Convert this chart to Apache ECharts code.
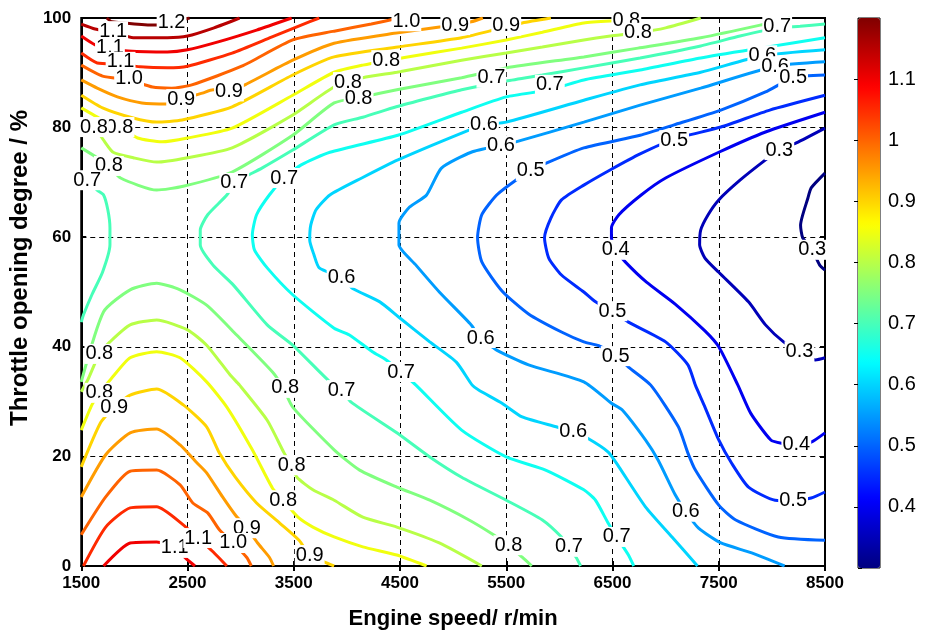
<!DOCTYPE html>
<html>
<head>
<meta charset="utf-8">
<script src="https://cdn.jsdelivr.net/npm/echarts/dist/echarts.min.js"></script>
<style>
  html, body { margin: 0; background: #fff; }
  #chart { width: 939px; height: 635px; }
</style>
</head>
<body>
<div id="chart"></div>
<script>
// contour lines, one array per level, each a list of polylines of [engine speed r/min, throttle %]
const lv120 = [[[1740,100],[1790,99.3],[2210,98.7],[2350,99.1],[2480,99.8],[2520,100]]];
const lv115 = [[[1500,98.9],[1630,98.0],[1800,97.4],[1990,96.4],[2310,96.4],[2500,96.7],[2750,98.2],[2990,100]]];
const lv110 = [
  [[1500,96.7],[1630,95.1],[1770,94.5],[1940,94.0],[2310,93.8],[2500,94.2],[2780,95.6],[3150,97.8],[3480,100]],
  [[1710,0],[1960,4.2],[2210,4.4],[2380,3.3],[2500,1.1],[2570,0]]
];
const lv105 = [
  [[1500,93.6],[1650,91.8],[1870,91.6],[2050,91.1],[2310,90.9],[2500,91.2],[2920,93.6],[3290,96.5],[3570,98.7],[3740,100]],
  [[1520,0],[1730,7.1],[1960,10.6],[2210,10.8],[2460,7.5],[2600,5.1],[2740,2.6],[2870,0]]
];
const lv100 = [
  [[1500,91.4],[1700,89.4],[1950,88.7],[2170,87.4],[2350,87.2],[2540,87.8],[3010,91.2],[3490,96.0],[3880,97.6],[4230,98.9],[4490,100]],
  [[1500,5.7],[1730,12.6],[1960,17.3],[2210,17.5],[2430,14.8],[2550,11.5],[2690,9.7],[2800,6.6],[2930,4.2],[3060,1.5],[3100,0]]
];
const lv095 = [
  [[1500,88.7],[1650,87.2],[1840,85.6],[2070,84.5],[2310,84.3],[2440,85.2],[2640,86.3],[2740,86.9],[2890,86.7],[3060,88.0],[3490,92.3],[3880,95.4],[4480,97.3],[4890,98.4],[5170,99.3],[5280,100]],
  [[1500,12.6],[1730,20.3],[1960,24.3],[2210,25.0],[2430,22.1],[2590,18.8],[2680,17.0],[2830,12.6],[2950,9.3],[3060,6.9],[3160,4.2],[3270,1.6],[3310,0]]
];
const lv090 = [
  [[1500,85.9],[1700,83.6],[1980,81.8],[2210,81.0],[2450,81.4],[2920,83.8],[3490,89.6],[3880,92.9],[4480,94.7],[5080,96.4],[5340,97.6],[5650,99.1],[5920,100]],
  [[1500,18.1],[1680,26.1],[1810,29.0],[1960,31.2],[2210,32.3],[2460,29.4],[2680,25.4],[2800,20.6],[2950,16.2],[3150,11.5],[3370,7.8],[3550,4.7],[3650,2.0],[3790,0.7],[3880,0]]
];
const lv085 = [
  [[1500,83.6],[1700,81.4],[1860,80.1],[2030,78.1],[2260,77.4],[2500,78.1],[2920,79.9],[3490,85.9],[3880,90.1],[4150,91.4],[4570,92.9],[5080,94.5],[5500,96.0],[5840,97.4],[6230,99.1],[6630,99.6],[6760,100]],
  [[1500,24.8],[1600,29.4],[1670,31.6],[1770,33.9],[1960,38.0],[2210,39.1],[2430,38.0],[2680,33.6],[2870,29.0],[3110,21.2],[3300,14.2],[3400,12.0],[3540,8.9],[3680,7.1],[3880,5.3],[4150,3.5],[4470,2.0],[4750,0]]
];
const lv080 = [
  [[1500,81.0],[1620,80.1],[1710,77.7],[1800,75.5],[1990,74.5],[2210,73.7],[2500,74.5],[2920,76.3],[3490,82.3],[3880,87.4],[4150,89.1],[4470,90.1],[5080,92.3],[5500,93.6],[5840,94.7],[6230,96.0],[6480,96.7],[6740,97.3],[7000,98.2],[7330,100]],
  [[1500,31.8],[1560,33.9],[1670,38.7],[1770,40.9],[1960,44.0],[2210,44.9],[2500,43.1],[2680,40.3],[2900,34.9],[2990,33.0],[3250,26.6],[3410,20.6],[3480,18.4],[3530,16.2],[3680,13.9],[3880,12.0],[4150,8.9],[4470,7.1],[4870,4.2],[5270,0]]
];
const lv075 = [
  [[1500,76.3],[1650,74.5],[1760,73.0],[1870,70.8],[2210,68.6],[2460,69.3],[2920,71.9],[3490,78.6],[3880,84.5],[4150,85.6],[4470,86.9],[5080,89.1],[5500,90.9],[6230,92.9],[6740,94.5],[7330,96.4],[7890,98.7],[8170,100]],
  [[1500,33.6],[1710,46.4],[1960,50.4],[2210,51.6],[2430,50.4],[2680,47.6],[2960,42.2],[3300,35.4],[3400,32.5],[3490,29.0],[3880,21.2],[4120,17.5],[4470,14.4],[4780,12.0],[5150,8.4],[5380,5.7],[5520,3.8],[5650,1.6],[5740,0]]
];
const lv070 = [
  [[1500,71.4],[1560,70.4],[1650,68.6],[1710,67.7],[1750,65.0],[1770,61.7],[1770,58.6],[1700,53.6],[1600,49.5],[1520,45.8],[1500,44.5]],
  [[8500,98.9],[8265,98.5],[8050,98.2],[7700,96.7],[7330,94.9],[6760,92.7],[6230,90.9],[5840,89.6],[5500,88.5],[5080,86.9],[4775,85.4],[4465,83.8],[4150,81.9],[3880,80.5],[3490,75.9],[3200,72.6],[3060,71.2],[2940,69.9],[2870,67.7],[2690,64.1],[2620,61.3],[2620,58.6],[2740,54.9],[2930,51.3],[3250,44.0],[3490,40.3],[3840,33.6],[3950,32.1],[4040,29.9],[4470,24.3],[4780,19.9],[5080,16.2],[5500,12.0],[5840,8.4],[6020,5.3],[6090,3.5],[6160,1.5],[6200,0]]
];
const lv065 = [[[8500,96.4],[7890,94.5],[7330,92.7],[6760,90.5],[6230,88.7],[5910,86.9],[5500,85.6],[5080,82.8],[4480,78.6],[3840,75.5],[3570,73.2],[3410,70.8],[3270,67.7],[3150,64.1],[3110,60.4],[3130,57.7],[3250,54.4],[3490,49.5],[3880,43.4],[4020,42.2],[4240,39.1],[4370,37.6],[4510,35.4],[4650,33.0],[5080,24.8],[5500,19.9],[5870,17.5],[6230,13.9],[6340,12.0],[6460,7.8],[6540,5.3],[6650,2.0],[6700,0]]];
const lv060 = [[[8500,94.2],[7910,93.1],[7330,90.1],[6760,87.8],[6230,85.0],[5500,81.0],[5290,80.5],[5080,79.0],[4480,74.1],[4140,70.8],[3840,67.7],[3710,65.0],[3660,62.2],[3650,59.5],[3690,56.8],[3740,54.4],[3950,52.6],[4050,50.7],[4310,48.2],[4490,45.4],[4780,40.9],[5030,37.2],[5180,33.0],[5240,32.1],[5460,29.7],[5650,27.2],[5970,25.4],[6130,24.5],[6250,23.5],[6460,20.8],[6560,18.1],[6810,10.8],[7060,5.3],[7300,0]]];
const lv055 = [[[8500,92.0],[8030,91.2],[7330,87.2],[6760,84.1],[6230,81.0],[5590,77.4],[5450,76.8],[5170,75.5],[4890,72.6],[4750,67.7],[4590,65.5],[4490,62.6],[4490,58.6],[4650,54.9],[4870,50.0],[5170,44.0],[5260,41.6],[5410,39.4],[5710,36.7],[6230,33.6],[6490,29.7],[6590,28.5],[6810,23.0],[6930,19.3],[7090,13.0],[7190,9.9],[7310,6.9],[7520,4.2],[7810,2.4],[8120,0]]];
const lv050 = [[[8500,89.6],[8200,89.1],[7940,86.5],[7520,83.2],[7080,80.5],[6760,78.6],[6230,76.3],[5840,73.2],[5730,72.1],[5590,70.4],[5410,67.7],[5270,64.1],[5230,59.9],[5270,55.5],[5460,50.2],[5710,46.0],[6020,42.7],[6230,40.9],[6370,40.2],[6530,38.5],[6650,36.3],[6860,33.0],[7120,25.4],[7210,20.6],[7280,17.5],[7500,11.1],[7660,8.4],[8060,5.3],[8500,4.7]]];
const lv045 = [[[8500,85.9],[7980,83.2],[7520,80.1],[7080,77.9],[6760,75.2],[6490,72.4],[6230,69.5],[6020,66.8],[5920,63.5],[5860,59.9],[5900,56.2],[6020,53.1],[6230,50.0],[6340,48.2],[6500,46.5],[6650,44.5],[7000,40.9],[7210,36.7],[7280,33.0],[7370,29.0],[7500,23.0],[7620,18.8],[7780,14.4],[8030,12.0],[8200,11.9],[8370,12.4],[8500,13.5]]];
const lv040 = [[[8500,82.8],[7940,79.2],[7500,75.5],[7000,70.8],[6770,67.7],[6560,64.1],[6490,61.7],[6490,59.9],[6530,57.7],[6620,55.5],[6820,51.8],[7090,47.8],[7370,42.9],[7500,40.0],[7680,33.0],[7800,27.9],[7990,23.0],[8090,22.4],[8230,22.1],[8370,22.6],[8500,24.3]]];
const lv035 = [[[8500,79.9],[8230,77.2],[8070,75.9],[7940,74.1],[7700,70.4],[7500,66.8],[7400,64.1],[7330,61.3],[7320,58.6],[7370,56.2],[7500,53.6],[7780,48.2],[7940,44.0],[8110,40.9],[8260,39.2],[8410,37.6],[8500,38.0]]];
const lv030 = [[[8500,71.7],[8370,69.0],[8340,67.2],[8270,62.2],[8290,59.9],[8380,57.7],[8450,54.9],[8500,54.0]]];

const levels = [1.2, 1.15, 1.1, 1.05, 1.0, 0.95, 0.9, 0.85, 0.8, 0.75, 0.7, 0.65, 0.6, 0.55, 0.5, 0.45, 0.4, 0.35, 0.3];
const levelLines = [lv120, lv115, lv110, lv105, lv100, lv095, lv090, lv085, lv080, lv075, lv070, lv065, lv060, lv055, lv050, lv045, lv040, lv035, lv030];

// inline contour labels [speed, throttle, text]
const contourLabels = [
  [2350,99.2,'1.2'], [1800,97.6,'1.1'], [1770,94.7,'1.1'], [1870,92.0,'1.1'], [1950,88.9,'1.0'], [4560,99.4,'1.0'],
  [2440,85.2,'0.9'], [2890,86.6,'0.9'], [5020,98.7,'0.9'], [5500,98.6,'0.9'],
  [1860,80.1,'0.8'], [1620,80.1,'0.8'], [4370,92.3,'0.8'], [6630,99.6,'0.8'], [4010,88.3,'0.8'], [6740,97.3,'0.8'],
  [1760,73.0,'0.8'], [4110,85.4,'0.8'],
  [1556,70.4,'0.7'], [8050,98.4,'0.7'], [5360,89.1,'0.7'], [5910,87.8,'0.7'], [2940,69.9,'0.7'], [3410,70.8,'0.7'],
  [7910,93.2,'0.6'], [8030,91.2,'0.6'], [5290,80.5,'0.6'], [5450,76.8,'0.6'],
  [8200,89.2,'0.5'], [5730,72.1,'0.5'], [7080,77.7,'0.5'], [8070,75.9,'0.3'],
  [3950,52.6,'0.6'], [6530,57.7,'0.4'], [8380,57.7,'0.3'],
  [5260,41.6,'0.6'], [6500,46.5,'0.5'], [6530,38.3,'0.5'], [8260,39.2,'0.3'],
  [1670,38.7,'0.8'], [1670,31.6,'0.8'], [1810,29.0,'0.9'], [3420,32.5,'0.8'], [3950,32.1,'0.7'], [4510,35.4,'0.7'],
  [6130,24.5,'0.6'], [8230,22.1,'0.4'], [3480,18.4,'0.8'], [3400,12.0,'0.8'], [8200,11.9,'0.5'], [7190,9.9,'0.6'],
  [3060,6.9,'0.9'], [2380,3.3,'1.1'], [2600,5.1,'1.1'], [2930,4.2,'1.0'], [3650,2.0,'0.9'], [5520,3.8,'0.8'],
  [6090,3.5,'0.7'], [6540,5.3,'0.7']
];

const speedMin = 1500, speedMax = 8500, speedStep = 1000;
const throttleMin = 0, throttleMax = 100, throttleStep = 20;
const cbarMin = 0.3, cbarMax = 1.2, cbarStep = 0.1;
const jetStops = ['#000080','#0000ff','#0080ff','#00ffff','#80ff80','#ffff00','#ff8000','#ff0000','#800000'];

const font = 'Liberation Sans, Arial, sans-serif';

function jet(v) {
  const t = (v - cbarMin) / (cbarMax - cbarMin);
  const c = x => Math.round(255 * Math.max(0, Math.min(1, x)));
  const r = c(1.5 - Math.abs(4 * t - 3));
  const g = c(1.5 - Math.abs(4 * t - 2));
  const b = c(1.5 - Math.abs(4 * t - 1));
  return `rgb(${r},${g},${b})`;
}

const series = [];
levels.forEach((lev, i) => {
  levelLines[i].forEach(path => {
    series.push({
      type: 'line', xAxisIndex: 0, yAxisIndex: 0,
      data: path, symbol: 'none', smooth: 0.2, silent: true,
      lineStyle: { color: jet(lev), width: 3 }, z: 2
    });
  });
});
series.push({
  type: 'scatter', xAxisIndex: 0, yAxisIndex: 0,
  data: contourLabels, symbolSize: 0, silent: true,
  itemStyle: { color: '#000', opacity: 1 },
  label: {
    show: true, position: 'inside', formatter: p => p.data[2],
    color: '#000', opacity: 1, fontSize: 20, fontFamily: font,
    textBorderWidth: 0, backgroundColor: '#fff', padding: [0, 1]
  },
  z: 3
});
series.push({ type: 'scatter', xAxisIndex: 2, yAxisIndex: 2, data: [] });
const cbarSeries = series.length - 1;

const tickStyle = { inside: true, length: 5, lineStyle: { color: '#000', width: 2 } };
const gridLine = { show: true, lineStyle: { color: '#000', type: [5, 4], width: 1 } };
const cbarTick = { inside: true, length: 4, lineStyle: { color: '#000', width: 1 } };

const option = {
  animation: false,
  backgroundColor: '#fff',
  grid: [
    { left: 79, right: 114, top: 18, bottom: 69, show: true, borderColor: '#000', borderWidth: 2 },
    { left: 858, width: 22, top: 18, height: 550, show: true, borderColor: '#000', borderWidth: 1 }
  ],
  xAxis: [
    {
      type: 'value', gridIndex: 0, min: speedMin, max: speedMax, interval: speedStep,
      axisLine: { show: true, onZero: false, lineStyle: { color: '#000', width: 2 } },
      axisTick: tickStyle, splitLine: gridLine,
      axisLabel: { color: '#000', fontSize: 17, fontWeight: 'bold', fontFamily: font, margin: 9, formatter: v => String(v) },
      name: 'Engine speed/ r/min', nameLocation: 'middle', nameGap: 42,
      nameTextStyle: { color: '#000', fontSize: 22, fontWeight: 'bold', fontFamily: font }
    },
    {
      type: 'value', gridIndex: 0, position: 'top', min: speedMin, max: speedMax, interval: speedStep,
      axisLine: { show: true, lineStyle: { color: '#000', width: 2 } },
      axisTick: tickStyle, axisLabel: { show: false }, splitLine: { show: false }
    },
    { type: 'value', gridIndex: 1, min: 0, max: 1, show: false }
  ],
  yAxis: [
    {
      type: 'value', gridIndex: 0, min: throttleMin, max: throttleMax, interval: throttleStep,
      axisLine: { show: true, onZero: false, lineStyle: { color: '#000', width: 2 } },
      axisTick: tickStyle, splitLine: gridLine,
      axisLabel: { color: '#000', fontSize: 17, fontWeight: 'bold', fontFamily: font, margin: 10 },
      name: 'Throttle opening degree / %', nameLocation: 'middle', nameGap: 41, nameRotate: 90,
      nameTextStyle: { color: '#000', fontSize: 24, fontWeight: 'bold', fontFamily: font, padding: [0, 0, 0, 48] }
    },
    {
      type: 'value', gridIndex: 0, position: 'right', min: throttleMin, max: throttleMax, interval: throttleStep,
      axisLine: { show: true, lineStyle: { color: '#000', width: 2 } },
      axisTick: tickStyle, axisLabel: { show: false }, splitLine: { show: false }
    },
    {
      type: 'value', gridIndex: 1, position: 'right', min: cbarMin, max: cbarMax, interval: cbarStep,
      axisLine: { show: false }, splitLine: { show: false }, axisTick: cbarTick,
      axisLabel: {
        color: '#000', fontSize: 20, fontFamily: font, margin: 8,
        showMinLabel: false, showMaxLabel: false,
        formatter: v => String(+v.toFixed(1))
      }
    },
    {
      type: 'value', gridIndex: 1, position: 'left', min: cbarMin, max: cbarMax, interval: cbarStep,
      axisLine: { show: false }, splitLine: { show: false }, axisTick: cbarTick,
      axisLabel: { show: false }
    }
  ],
  visualMap: {
    type: 'continuous', seriesIndex: cbarSeries, min: cbarMin, max: cbarMax,
    calculable: false, orient: 'vertical', left: 858, top: 18, padding: 0,
    itemWidth: 22, itemHeight: 550, inRange: { color: jetStops }, z: 1
  },
  series: series
};

const chart = echarts.init(document.getElementById('chart'));
chart.setOption(option);
</script>
</body>
</html>
